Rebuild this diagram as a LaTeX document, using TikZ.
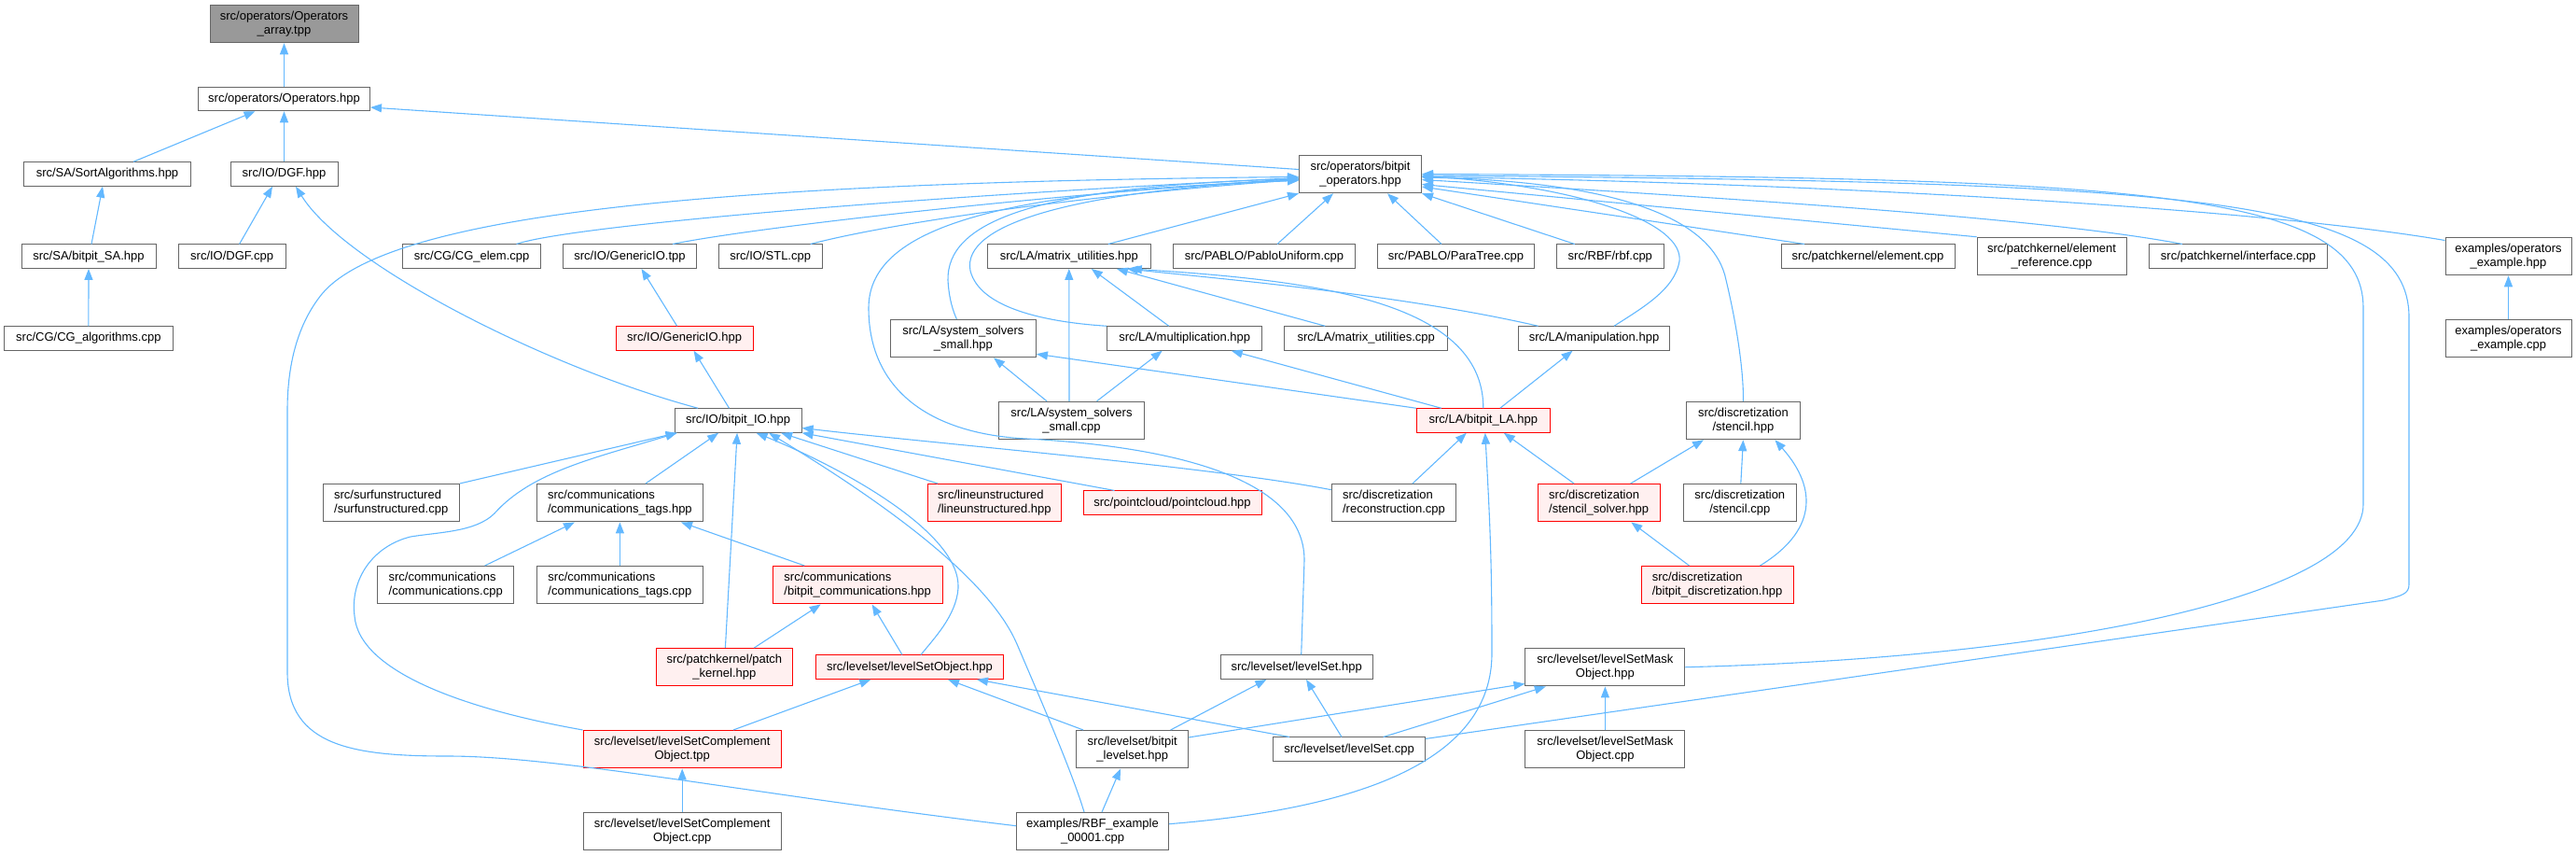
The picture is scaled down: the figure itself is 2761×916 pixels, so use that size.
\documentclass[tikz,border=0pt]{standalone}
\usepackage{fontspec}
\setmainfont{Liberation Sans}
\usetikzlibrary{arrows.meta,calc}
\definecolor{edgeblue}{HTML}{63B8FF}
\definecolor{boxgray}{HTML}{666666}
\definecolor{redfill}{HTML}{FFF0F0}
\definecolor{rootfill}{HTML}{999999}
\begin{document}
\begin{tikzpicture}[x=1pt,y=-1pt,
 box/.style={draw=boxgray,line width=1pt,fill=white,inner sep=0pt,font=\fontsize{13pt}{15pt}\selectfont,align=center},
 rbox/.style={box,draw=red,fill=redfill},
 one/.style={minimum height=25.5pt},
 two/.style={minimum height=40.5pt},
 lft/.style={align=left},
 dep/.style={draw=edgeblue,line width=1.1pt,arrows={Triangle[length=12pt,width=9pt]-}}]
\useasboundingbox (0,0) rectangle (2761,916);
% row 0-2
\node[box,two,fill=rootfill,minimum width=159pt] (arr) at (304.5,25.5) {src/operators/Operators\\\_array.tpp};
\node[box,one,minimum width=184pt] (ops) at (304.5,106) {src/operators/Operators.hpp};
\node[box,one,minimum width=179pt] (sort) at (115,186.5) {src/SA/SortAlgorithms.hpp};
\node[box,one,minimum width=115pt] (dgfh) at (304.5,186.5) {src/IO/DGF.hpp};
\node[box,two,minimum width=131pt] (bop) at (1458,186.5) {src/operators/bitpit\\\_operators.hpp};
% row 3
\node[box,one,minimum width=144pt] (sa) at (95,274.7) {src/SA/bitpit\_SA.hpp};
\node[box,one,minimum width=115pt] (dgfc) at (248.6,274.7) {src/IO/DGF.cpp};
\node[box,one,minimum width=148pt] (cgel) at (505.6,274.7) {src/CG/CG\_elem.cpp};
\node[box,one,minimum width=143pt] (gtpp) at (675,274.7) {src/IO/GenericIO.tpp};
\node[box,one,minimum width=111pt] (stl) at (825.7,274.7) {src/IO/STL.cpp};
\node[box,one,minimum width=175pt] (mu) at (1145.8,274.7) {src/LA/matrix\_utilities.hpp};
\node[box,one,minimum width=195pt] (pablo) at (1355,274.7) {src/PABLO/PabloUniform.cpp};
\node[box,one,minimum width=168pt] (para) at (1560.5,274.7) {src/PABLO/ParaTree.cpp};
\node[box,one,minimum width=115pt] (rbfc) at (1725.8,274.7) {src/RBF/rbf.cpp};
\node[box,one,minimum width=186pt] (elem) at (2002,274.7) {src/patchkernel/element.cpp};
\node[box,two,minimum width=160pt] (elref) at (2199,274.5) {src/patchkernel/element\\\_reference.cpp};
\node[box,one,minimum width=191pt] (iface) at (2399,274.7) {src/patchkernel/interface.cpp};
\node[box,two,minimum width=135pt] (opex) at (2688.5,274.5) {examples/operators\\\_example.hpp};
% row 4
\node[box,one,minimum width=181pt] (cgalg) at (94.9,362.5) {src/CG/CG\_algorithms.cpp};
\node[rbox,one,minimum width=147pt] (ghpp) at (733.6,362.5) {src/IO/GenericIO.hpp};
\node[box,two,minimum width=156pt] (sssh) at (1032.4,362.5) {src/LA/system\_solvers\\\_small.hpp};
\node[box,one,minimum width=166.5pt] (mult) at (1269.7,362.5) {src/LA/multiplication.hpp};
\node[box,one,minimum width=175pt] (muc) at (1464.2,362.5) {src/LA/matrix\_utilities.cpp};
\node[box,one,minimum width=162.5pt] (manip) at (1708.5,362.5) {src/LA/manipulation.hpp};
\node[box,two,minimum width=135pt] (opexc) at (2688.5,362.5) {examples/operators\\\_example.cpp};
% row 5
\node[box,one,minimum width=136pt] (bio) at (791.1,450.5) {src/IO/bitpit\_IO.hpp};
\node[box,two,minimum width=156pt] (sssc) at (1148.5,450.5) {src/LA/system\_solvers\\\_small.cpp};
\node[rbox,one,minimum width=143pt] (bla) at (1589.8,450.5) {src/LA/bitpit\_LA.hpp};
\node[box,two,minimum width=121.4pt] (sten) at (1868.4,450.5) {src/discretization\\/stencil.hpp};
% row 6
\node[box,two,lft,minimum width=146.4pt] (surf) at (419.2,538.7) {src/surfunstructured\\/surfunstructured.cpp};
\node[box,two,lft,minimum width=178.8pt] (ctagh) at (664.4,538.7) {src/communications\\/communications\_tags.hpp};
\node[rbox,two,lft,minimum width=143pt] (line) at (1065.9,538.7) {src/lineunstructured\\/lineunstructured.hpp};
\node[rbox,one,minimum width=191pt] (pc) at (1256.5,538.7) {src/pointcloud/pointcloud.hpp};
\node[box,two,lft,minimum width=133.5pt] (recon) at (1494,538.7) {src/discretization\\/reconstruction.cpp};
\node[rbox,two,lft,minimum width=131pt] (ssol) at (1713.7,538.7) {src/discretization\\/stencil\_solver.hpp};
\node[box,two,minimum width=121.4pt] (stcpp) at (1864.8,538.7) {src/discretization\\/stencil.cpp};
% row 7
\node[box,two,lft,minimum width=146.4pt] (comm) at (477.7,626.7) {src/communications\\/communications.cpp};
\node[box,two,lft,minimum width=178.8pt] (ctagc) at (664.4,626.7) {src/communications\\/communications\_tags.cpp};
\node[rbox,two,lft,minimum width=181.7pt] (bcomm) at (919.2,626.7) {src/communications\\/bitpit\_communications.hpp};
\node[rbox,two,lft,minimum width=163pt] (bdisc) at (1840.5,626.7) {src/discretization\\/bitpit\_discretization.hpp};
% row 8
\node[rbox,two,minimum width=146.8pt] (patch) at (776.4,714.7) {src/patchkernel/patch\\\_kernel.hpp};
\node[rbox,one,minimum width=201.3pt] (lso) at (975,714.7) {src/levelset/levelSetObject.hpp};
\node[box,one,minimum width=162.7pt] (lsh) at (1389.7,714.7) {src/levelset/levelSet.hpp};
\node[box,two,minimum width=171pt] (lsmh) at (1720.4,714.7) {src/levelset/levelSetMask\\Object.hpp};
% row 9
\node[rbox,two,minimum width=212.3pt] (lsctpp) at (731.2,802.7) {src/levelset/levelSetComplement\\Object.tpp};
\node[box,two,minimum width=119.7pt] (blsh) at (1213.7,802.7) {src/levelset/bitpit\\\_levelset.hpp};
\node[box,one,minimum width=162.7pt] (lscpp) at (1446,802.7) {src/levelset/levelSet.cpp};
\node[box,two,minimum width=171pt] (lsmc) at (1720.4,802.7) {src/levelset/levelSetMask\\Object.cpp};
% row 10
\node[box,two,minimum width=212.3pt] (lsccpp) at (731.2,890.7) {src/levelset/levelSetComplement\\Object.cpp};
\node[box,two,minimum width=163pt] (rbfex) at (1171,890.7) {examples/RBF\_example\\\_00001.cpp};

% ---------- edges ----------
\draw[dep] (arr) -- (ops);
\draw[dep] ($(ops.south)+(-31,0)$) -- ($(sort.north)+(28,0)$);
\draw[dep] (ops) -- (dgfh);
\draw[dep] ($(ops.east)+(0,9)$) -- ($(bop.west)+(0,-5)$);
\draw[dep] ($(sort.south)+(-5,0)$) -- ($(sa.north)+(3,0)$);
\draw[dep] (sa) -- (cgalg);
\draw[dep] ($(dgfh.south)+(-12.5,0)$) -- ($(dgfc.north)+(8,0)$);
\draw[dep] ($(dgfh.south)+(12.5,0)$) .. controls (370,285) and (590,395) .. ($(bio.north)+(-43,0)$);
% bitpit_operators left side
\draw[dep] ($(bop.west)+(0,4)$) .. controls (900,215) and (600,245) .. ($(cgel.north)+(48,0)$);
\draw[dep] ($(bop.west)+(0,5)$) .. controls (1100,210) and (800,245) .. ($(gtpp.north)+(46,0)$);
\draw[dep] ($(bop.west)+(0,6)$) .. controls (1150,210) and (950,240) .. ($(stl.north)+(43,0)$);
\draw[dep] (bop.south west) -- ($(mu.north)+(42,0)$);
\draw[dep] ($(bop.west)+(0,3)$) .. controls (800,195) and (420,225) .. (345,315) .. controls (315,352) and (308,400) .. (308,440) -- (308,720) .. controls (308,800) and (380,810) .. (480,810) .. controls (600,810) and (800,850) .. ($(rbfex.west)+(0,-6)$);
\draw[dep] ($(bop.west)+(0,5)$) .. controls (1100,200) and (1015,240) .. (1016,300) .. controls (1017,320) and (1022,335) .. ($(sssh.north)+(-7,0)$);
\draw[dep] ($(bop.west)+(0,6)$) .. controls (1150,205) and (1030,240) .. (1040,290) .. controls (1050,330) and (1120,345) .. (mult.north west);
\draw[dep] ($(bop.west)+(0,7)$) .. controls (1050,205) and (931,250) .. (931,330) .. controls (931,420) and (1000,465) .. (1100,470) .. controls (1250,478) and (1398,510) .. (1398,600) -- ($(lsh.north)+(5,0)$);
% bitpit_operators bottom / right side
\draw[dep] ($(bop.south)+(-29,0)$) -- ($(pablo.north)+(14,0)$);
\draw[dep] ($(bop.south)+(29,0)$) -- ($(para.north)+(-15.5,0)$);
\draw[dep] (bop.south east) -- ($(rbfc.north)+(-38,0)$);
\draw[dep] ($(bop.east)+(0,13.5)$) -- ($(elem.north)+(-68,0)$);
\draw[dep] ($(bop.east)+(0,11)$) -- (elref.north west);
\draw[dep] ($(bop.east)+(0,6)$) .. controls (1900,215) and (2200,235) .. ($(iface.north)+(-60,0)$);
\draw[dep] ($(bop.east)+(0,3)$) .. controls (1900,195) and (2400,220) .. ($(opex.west)+(0,-17)$);
\draw[dep] (bop.east) .. controls (2300,190) and (2533,205) .. (2533,330) -- (2533,540) .. controls (2533,640) and (2200,705) .. (lsmh.east);
\draw[dep] ($(bop.east)+(0,1.5)$) .. controls (2350,195) and (2582,210) .. (2582,340) -- (2582,626) .. controls (2582,636) and (2575,638) .. (2555,643) -- ($(lscpp.north east)+(0,2)$);
\draw[dep] ($(bop.east)+(0,3.5)$) .. controls (1750,195) and (1838,240) .. (1850,300) .. controls (1862,350) and (1869,400) .. (sten.north);
\draw[dep] ($(bop.east)+(0,2)$) .. controls (1700,200) and (1805,240) .. (1800,280) .. controls (1795,310) and (1760,330) .. ($(manip.north)+(21.5,0)$);
\draw[dep] (opex) -- (opexc);
% LA
\draw[dep] (mu.south) -- ($(sssc.north)+(-2.5,0)$);
\draw[dep] ($(mu.south)+(24,0)$) -- ($(mult.north)+(-17,0)$);
\draw[dep] ($(mu.south)+(51,0)$) -- ($(muc.north)+(-44,0)$);
\draw[dep] ($(mu.south)+(62,0)$) .. controls (1300,298) and (1500,315) .. ($(manip.north)+(-60,0)$);
\draw[dep] ($(mu.south)+(66,0)$) .. controls (1400,300) and (1590,320) .. (bla.north);
\draw[dep] ($(sssh.south)+(32.6,0)$) -- ($(sssc.north)+(-26.5,0)$);
\draw[dep] ($(sssh.south east)+(0,-4)$) -- (bla.north west);
\draw[dep] ($(mult.south)+(-24,0)$) -- ($(sssc.north)+(27,0)$);
\draw[dep] ($(mult.south)+(50,0)$) -- ($(bla.north)+(-45,0)$);
\draw[dep] ($(manip.south)+(-23,0)$) -- ($(bla.north)+(18,0)$);
\draw[dep] ($(bla.south)+(-18,0)$) -- ($(recon.north)+(20,0)$);
\draw[dep] ($(bla.south)+(22,0)$) -- ($(ssol.north)+(-26.7,0)$);
\draw[dep] ($(bla.south)+(2,0)$) .. controls (1597,560) and (1599,600) .. (1599,700) .. controls (1599,810) and (1470,865) .. ($(rbfex.east)+(0,-8)$);
% discretization
\draw[dep] ($(sten.south)+(-42.4,0)$) -- ($(ssol.north)+(34,0)$);
\draw[dep] (sten.south) -- ($(stcpp.north)+(1,0)$);
\draw[dep] ($(sten.south)+(34,0)$) .. controls (1950,525) and (1945,570) .. ($(bdisc.north)+(46,0)$);
\draw[dep] ($(ssol.south)+(34.6,0)$) -- ($(bdisc.north)+(-30,0)$);
% IO
\draw[dep] ($(ghpp.south)+(10,0)$) -- ($(bio.north)+(-9.6,0)$);
\draw[dep] ($(gtpp.south)+(12.5,0)$) -- ($(ghpp.north)+(-8,0)$);
\draw[dep] ($(bio.south west)+(3,0)$) -- (surf.north east);
\draw[dep] ($(bio.south west)+(3,0)$) .. controls (640,490) and (570,505) .. (530,550) .. controls (510,570) and (470,570) .. (440,575) .. controls (400,585) and (375,620) .. (380,660) .. controls (385,720) and (500,760) .. (lsctpp.north west);
\draw[dep] ($(bio.south)+(-21,0)$) -- ($(ctagh.north)+(27.6,0)$);
\draw[dep] ($(bio.south)+(-1,0)$) -- ($(patch.north)+(1,0)$);
\draw[dep] ($(bio.south)+(19.5,0)$) .. controls (900,500) and (1030,570) .. (1027,630) .. controls (1025,660) and (1000,685) .. ($(lso.north)+(12,0)$);
\draw[dep] ($(bio.south)+(33,0)$) .. controls (950,540) and (1060,620) .. (1090,690) .. controls (1120,760) and (1150,830) .. ($(rbfex.north)+(-9,0)$);
\draw[dep] ($(bio.south)+(46,0)$) -- ($(line.north)+(-61,0)$);
\draw[dep] (bio.south east) -- ($(pc.north)+(-62,0)$);
\draw[dep] ($(bio.east)+(0,8)$) .. controls (1000,475) and (1300,500) .. ($(recon.west)+(0,-14)$);
% communications
\draw[dep] ($(ctagh.south)+(-48.4,0)$) -- ($(comm.north)+(42,0)$);
\draw[dep] (ctagh) -- (ctagc);
\draw[dep] ($(ctagh.south)+(65.6,0)$) -- ($(bcomm.north)+(-57,0)$);
\draw[dep] ($(bcomm.south)+(-39.5,0)$) -- ($(patch.north)+(32,0)$);
\draw[dep] ($(bcomm.south)+(15.4,0)$) -- ($(lso.north)+(-8,0)$);
% levelset
\draw[dep] ($(lso.south)+(-41.7,0)$) -- ($(lsctpp.north)+(54.8,0)$);
\draw[dep] ($(lso.south)+(41,0)$) -- ($(blsh.north)+(-52.7,0)$);
\draw[dep] ($(lso.south)+(72,0)$) -- ($(lscpp.north)+(-64,0)$);
\draw[dep] ($(lsh.south)+(-32.3,0)$) -- ($(blsh.north)+(41,0)$);
\draw[dep] ($(lsh.south)+(10.3,0)$) -- ($(lscpp.north)+(-8,0)$);
\draw[dep] ($(lsmh.south west)+(0,-3)$) -- ($(blsh.north east)+(0,8)$);
\draw[dep] ($(lsmh.south)+(-63.6,0)$) -- ($(lscpp.north)+(36.7,0)$);
\draw[dep] (lsmh) -- (lsmc);
\draw[dep] (lsctpp) -- (lsccpp);
\draw[dep] ($(blsh.south)+(-12.7,0)$) -- ($(rbfex.north)+(10,0)$);
\end{tikzpicture}
\end{document}
